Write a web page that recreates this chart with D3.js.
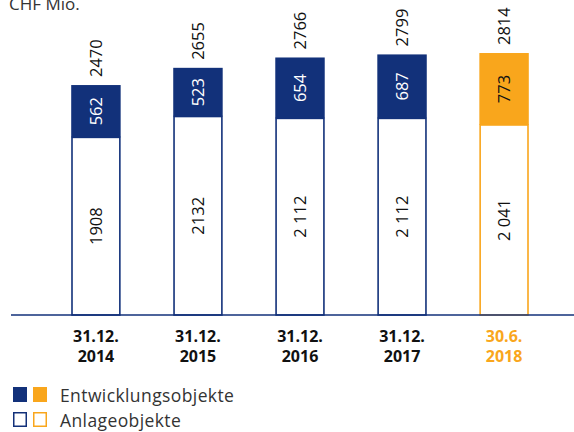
<!DOCTYPE html>
<html><head><meta charset="utf-8">
<script src="https://cdn.jsdelivr.net/npm/d3@7"></script>
<style>
html,body{margin:0;padding:0;background:#fff;}
svg{display:block;font-family:"Open Sans",sans-serif;}
</style></head><body>
<svg id="chart" width="574" height="432"></svg>
<script>
const categoriesLine1 = ["31.12.", "31.12.", "31.12.", "31.12.", "30.6."];
const categoriesLine2 = ["2014", "2015", "2016", "2017", "2018"];
const anlageobjekte = [1908, 2132, 2112, 2112, 2041];
const entwicklungsobjekte = [562, 523, 654, 687, 773];
const totals = [2470, 2655, 2766, 2799, 2814];
const labelsAnlage = ["1908", "2132", "2 112", "2 112", "2 041"];
const highlight = [false, false, false, false, true];

const BLUE = "#12317a", ORANGE = "#f9a61c";
const svg = d3.select("#chart");
const keys = categoriesLine2;
const x = d3.scaleBand().domain(keys).range([72, 528]).paddingInner(0.531).paddingOuter(0);
const y = d3.scaleLinear().domain([0, 3000]).range([315, 315 - 3000 * 0.0931]);

svg.append("text").attr("x", 9).attr("y", 10).attr("font-size", 17).attr("fill", "#333").text("CHF Mio.");

const g = svg.append("g");
const NUM = 16.5;
keys.forEach((k, i) => {
  const col = highlight[i] ? ORANGE : BLUE;
  const x0 = x(k), w = x.bandwidth(), cx = x0 + w / 2;
  const a = anlageobjekte[i], e = entwicklungsobjekte[i];
  g.append("rect").attr("x", x0).attr("y", y(a)).attr("width", w).attr("height", y(0) - y(a))
    .attr("fill", "#fff").attr("stroke", col).attr("stroke-width", 1.6);
  g.append("rect").attr("x", x0 - 0.8).attr("y", y(a + e)).attr("width", w + 1.6).attr("height", y(a) - y(a + e))
    .attr("fill", col);
  g.append("text").attr("transform", `translate(${cx},${(y(a) + y(0)) / 2}) rotate(-90)`)
    .attr("text-anchor", "middle").attr("dy", "0.36em").attr("font-size", NUM).attr("fill", "#111")
    .text(labelsAnlage[i]);
  g.append("text").attr("transform", `translate(${cx},${(y(a) + y(a + e)) / 2}) rotate(-90)`)
    .attr("text-anchor", "middle").attr("dy", "0.36em").attr("font-size", NUM)
    .attr("fill", highlight[i] ? "#111" : "#fff").text(entwicklungsobjekte[i]);
  g.append("text").attr("transform", `translate(${cx + 6},${y(totals[i]) - 8}) rotate(-90)`)
    .attr("text-anchor", "start").attr("font-size", NUM).attr("fill", "#111").text(totals[i]);
  const tc = highlight[i] ? ORANGE : "#111";
  g.append("text").attr("x", cx).attr("y", 342).attr("text-anchor", "middle").attr("font-size", 16)
    .attr("font-weight", 700).attr("fill", tc).text(categoriesLine1[i]);
  g.append("text").attr("x", cx).attr("y", 362).attr("text-anchor", "middle").attr("font-size", 16)
    .attr("font-weight", 700).attr("fill", tc).text(categoriesLine2[i]);
});

svg.append("line").attr("x1", 11).attr("x2", 574).attr("y1", y(0)).attr("y2", y(0))
  .attr("stroke", BLUE).attr("stroke-width", 1.6);

const legend = [
  {label: "Entwicklungsobjekte", filled: true, yy: 387},
  {label: "Anlageobjekte", filled: false, yy: 412}
];
legend.forEach(l => {
  [BLUE, ORANGE].forEach((c, j) => {
    if (l.filled) {
      svg.append("rect").attr("x", 13 + j * 20).attr("y", l.yy).attr("width", 14).attr("height", 15).attr("fill", c);
    } else {
      svg.append("rect").attr("x", 13.75 + j * 20).attr("y", l.yy + 0.75).attr("width", 12.5).attr("height", 13.5)
        .attr("fill", "#fff").attr("stroke", c).attr("stroke-width", 1.5);
    }
  });
  svg.append("text").attr("x", 60).attr("y", l.yy + 14.5).attr("font-size", 17.5).attr("letter-spacing", 0.4)
    .attr("fill", "#333").text(l.label);
});
</script>
</body></html>
